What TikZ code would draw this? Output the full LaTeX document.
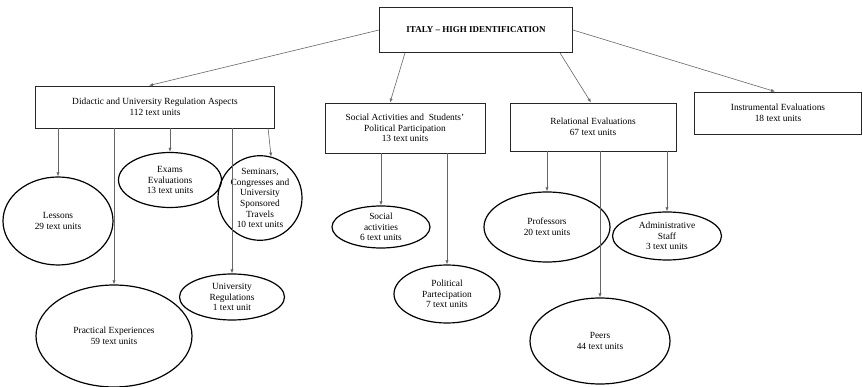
\documentclass[tikz,border=0pt]{standalone}
\usepackage{fontspec}
\setmainfont{Liberation Serif}
\usepackage{tikz}
\usetikzlibrary{arrows.meta,shapes.geometric}

\tikzset{
    catbox/.style={draw=black!85, line width=0.9pt, align=center, inner sep=0pt,
        font=\fontsize{9.4}{10.7}\selectfont},
    subell/.style={ellipse, draw=black, line width=1.2pt, align=center, inner sep=0pt,
        font=\fontsize{9.4}{10.7}\selectfont},
    link/.style={draw=black!60, line width=0.6pt, -{Latex[length=4pt,width=3.2pt]}}
}

\begin{document}
\begin{tikzpicture}[x=1pt, y=-1pt]
    \useasboundingbox (0,0) rectangle (863,387);
    % Root
    \node[catbox, minimum width=193pt, minimum height=45pt, font=\fontsize{9}{10}\selectfont\bfseries]
        (Root) at (476,30) {ITALY -- HIGH IDENTIFICATION};
    % Categories
    \node[catbox, minimum width=239pt, minimum height=42pt] (Cat-1) at (155,107)
        {Didactic and University Regulation Aspects\\112 text units};
    \node[catbox, minimum width=160pt, minimum height=50pt] (Cat-2) at (405,128)
        {Social Activities and \ Students'\\Political Participation\\13 text units};
    \node[catbox, minimum width=166pt, minimum height=48pt] (Cat-3) at (593,127)
        {Relational Evaluations\\67 text units};
    \node[catbox, minimum width=167pt, minimum height=42pt] (Cat-4) at (778,113)
        {Instrumental Evaluations\\18 text units};
    % Didactic subcategories
    \node[subell, minimum width=110pt, minimum height=88pt] (Did-1) at (58,221) {Lessons\\29 text units};
    \node[subell, minimum width=156pt, minimum height=102pt] (Did-2) at (114,336) {Practical Experiences\\59 text units};
    \node[subell, minimum width=103pt, minimum height=55pt] (Did-3) at (170,180) {Exams\\Evaluations\\13 text units};
    \node[subell, minimum width=105pt, minimum height=46pt] (Did-4) at (232,297) {University\\Regulations\\1 text unit};
    \node[subell, minimum width=84pt, minimum height=71pt] (Did-5) at (260,198)
        {Seminars,\\Congresses and\\University\\Sponsored\\Travels\\10 text units};
    % Social subcategories
    \node[subell, minimum width=98pt, minimum height=42pt] (Soc-1) at (381,227) {Social\\activities\\6 text units};
    \node[subell, minimum width=106pt, minimum height=58pt] (Soc-2) at (447,294) {Political\\Partecipation\\7 text units};
    % Relational subcategories
    \node[subell, minimum width=126pt, minimum height=70pt] (Rel-1) at (547,227) {Professors\\20 text units};
    \node[subell, minimum width=140pt, minimum height=86pt] (Rel-2) at (600,341) {Peers\\44 text units};
    \node[subell, minimum width=109pt, minimum height=48pt] (Rel-3) at (667,236) {Administrative\\Staff\\3 text units};
    % Arrows
    \draw[link] (Root.west) -- ([xshift=-6pt]Cat-1.north);
    \draw[link] ([xshift=-71pt]Root.south) -- ([xshift=-15pt]Cat-2.north);
    \draw[link] ([xshift=84pt]Root.south) -- ([xshift=-2pt]Cat-3.north);
    \draw[link] (Root.east) -- ([xshift=-3pt]Cat-4.north);
    \foreach \j in {1,2,3,4} {
        \draw[link] (Cat-1.south -| Did-\j.north) -- (Did-\j.north);
    }
    \draw[link] ([xshift=-3pt]Cat-1.south -| Did-5.75) -- (Did-5.75);
    \foreach \j in {1,2} {
        \draw[link] (Cat-2.south -| Soc-\j.north) -- (Soc-\j.north);
    }
    \foreach \j in {1,2,3} {
        \draw[link] (Cat-3.south -| Rel-\j.north) -- (Rel-\j.north);
    }
\end{tikzpicture}
\end{document}
